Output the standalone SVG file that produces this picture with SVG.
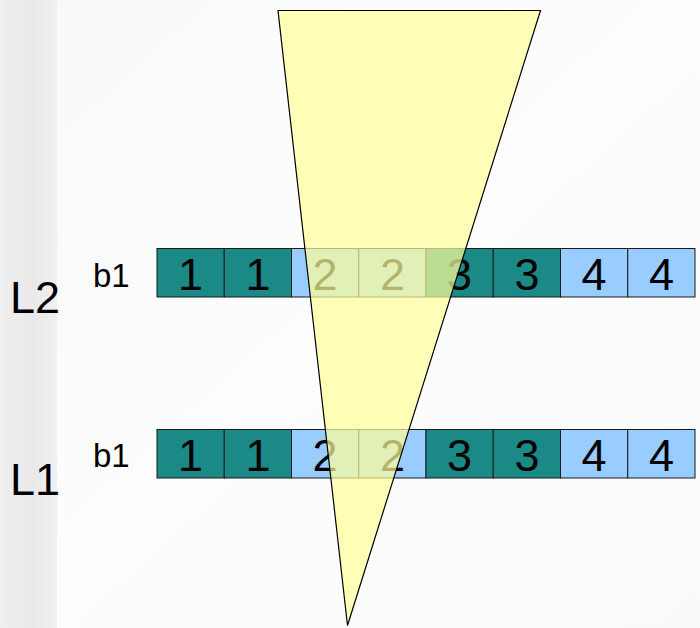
<svg xmlns="http://www.w3.org/2000/svg" width="700" height="628" viewBox="0 0 700 628">
  <defs>
    <linearGradient id="bg" x1="0" y1="0" x2="1" y2="1">
      <stop offset="0" stop-color="#f9f9f9"/>
      <stop offset="0.5" stop-color="#fdfdfd"/>
      <stop offset="1" stop-color="#fafafa"/>
    </linearGradient>
    <linearGradient id="strip" x1="0" y1="0" x2="1" y2="0">
      <stop offset="0" stop-color="#efefef"/>
      <stop offset="0.6" stop-color="#e9e9e9"/>
      <stop offset="1" stop-color="#f1f1f1"/>
    </linearGradient>
    <style>
      .teal { fill: #1b8a87; stroke: #1a1a1a; stroke-width: 1; }
      .blue { fill: #99ccff; stroke: #1a1a1a; stroke-width: 1; }
      .num { font-family: "Liberation Sans", Arial, sans-serif; font-size: 45px; fill: #000; text-anchor: middle; }
      .lvl { font-family: "Liberation Sans", Arial, sans-serif; font-size: 45px; fill: #000; }
      .blk { font-family: "Liberation Sans", Arial, sans-serif; font-size: 33px; fill: #000; }
      .cone { fill: #ffff99; fill-opacity: 0.7; stroke: #000; stroke-width: 1.2; }
    </style>
  </defs>

  <rect x="0" y="0" width="700" height="628" fill="url(#bg)"/>
  <rect x="0" y="0" width="57" height="628" fill="url(#strip)"/>

  <g id="label-L2"><text class="lvl" x="10" y="313">L2</text></g>
  <g id="label-L1"><text class="lvl" x="10" y="495">L1</text></g>

  <g id="row-L2">
    <text class="blk" x="93" y="287">b1</text>
    <g id="L2-c1"><rect class="teal" x="157" y="248.5" width="67.25" height="48.5"/><text class="num" x="190.6" y="290">1</text></g>
    <g id="L2-c2"><rect class="teal" x="224.25" y="248.5" width="67.25" height="48.5"/><text class="num" x="257.9" y="290">1</text></g>
    <g id="L2-c3"><rect class="blue" x="291.5" y="248.5" width="67.25" height="48.5"/><text class="num" x="325.1" y="290">2</text></g>
    <g id="L2-c4"><rect class="blue" x="358.75" y="248.5" width="67.25" height="48.5"/><text class="num" x="392.4" y="290">2</text></g>
    <g id="L2-c5"><rect class="teal" x="426" y="248.5" width="67.25" height="48.5"/><text class="num" x="459.6" y="290">3</text></g>
    <g id="L2-c6"><rect class="teal" x="493.25" y="248.5" width="67.25" height="48.5"/><text class="num" x="526.9" y="290">3</text></g>
    <g id="L2-c7"><rect class="blue" x="560.5" y="248.5" width="67.25" height="48.5"/><text class="num" x="594.1" y="290">4</text></g>
    <g id="L2-c8"><rect class="blue" x="627.75" y="248.5" width="67.25" height="48.5"/><text class="num" x="661.4" y="290">4</text></g>
  </g>

  <g id="row-L1">
    <text class="blk" x="93" y="467">b1</text>
    <g id="L1-c1"><rect class="teal" x="157" y="429.5" width="67.25" height="48.5"/><text class="num" x="190.6" y="471">1</text></g>
    <g id="L1-c2"><rect class="teal" x="224.25" y="429.5" width="67.25" height="48.5"/><text class="num" x="257.9" y="471">1</text></g>
    <g id="L1-c3"><rect class="blue" x="291.5" y="429.5" width="67.25" height="48.5"/><text class="num" x="325.1" y="471">2</text></g>
    <g id="L1-c4"><rect class="blue" x="358.75" y="429.5" width="67.25" height="48.5"/><text class="num" x="392.4" y="471">2</text></g>
    <g id="L1-c5"><rect class="teal" x="426" y="429.5" width="67.25" height="48.5"/><text class="num" x="459.6" y="471">3</text></g>
    <g id="L1-c6"><rect class="teal" x="493.25" y="429.5" width="67.25" height="48.5"/><text class="num" x="526.9" y="471">3</text></g>
    <g id="L1-c7"><rect class="blue" x="560.5" y="429.5" width="67.25" height="48.5"/><text class="num" x="594.1" y="471">4</text></g>
    <g id="L1-c8"><rect class="blue" x="627.75" y="429.5" width="67.25" height="48.5"/><text class="num" x="661.4" y="471">4</text></g>
  </g>

  <g id="cone">
    <polygon class="cone" points="278,10.5 540.5,10.5 347.5,625.5"/>
  </g>
</svg>
